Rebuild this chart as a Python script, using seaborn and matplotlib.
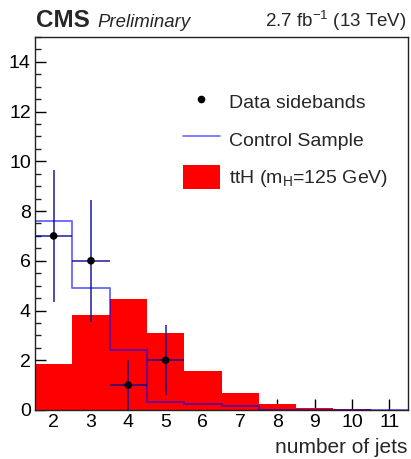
import numpy as np
import pandas as pd
import matplotlib
matplotlib.use('Agg')
import matplotlib.pyplot as plt
import seaborn as sns
from matplotlib.lines import Line2D
from matplotlib.patches import Patch

# Data
n_jets = [2, 3, 4, 5, 6, 7, 8, 9, 10, 11]
tth_signal = [1.85, 3.82, 4.45, 3.10, 1.58, 0.68, 0.25, 0.07, 0.02, 0.01]
control_sample = [7.62, 4.89, 2.42, 0.33, 0.25, 0.15, 0.0, 0.0, 0.0, 0.0]
data_jets = [2, 3, 4, 5]
data_counts = [7, 6, 1, 2]
bin_edges = [1.5, 2.5, 3.5, 4.5, 5.5, 6.5, 7.5, 8.5, 9.5, 10.5, 11.5]

hist = pd.DataFrame({'njets': n_jets, 'tth': tth_signal, 'control': control_sample})

sns.set_theme(style='white')
plt.rcParams['font.family'] = ['Liberation Sans', 'DejaVu Sans']
plt.rcParams['mathtext.fontset'] = 'custom'
plt.rcParams['mathtext.rm'] = 'Liberation Sans'
plt.rcParams['mathtext.it'] = 'Liberation Sans:italic'

fig = plt.figure(figsize=(4.11, 4.59), dpi=100)
ax = fig.add_axes([0.0852, 0.1068, 0.9075, 0.8126])

# ttH signal, filled red
sns.histplot(data=hist, x='njets', weights='tth', bins=bin_edges, element='step',
             fill=True, color='#ff0000', alpha=1.0, linewidth=0, ax=ax)
# control sample, blue outline
sns.histplot(data=hist, x='njets', weights='control', bins=bin_edges, element='step',
             fill=False, color='#0000ff', alpha=0.6, linewidth=1.3, ax=ax)

# data sidebands with sqrt(N) errors
yerr = np.sqrt(data_counts)
ax.errorbar(data_jets, data_counts, xerr=0.5, yerr=yerr, fmt='none',
            ecolor='#000096', alpha=0.7, elinewidth=1.4, capsize=0)
sns.scatterplot(x=data_jets, y=data_counts, color='black', s=30, ax=ax, zorder=5,
                edgecolor='none')

ax.set_xlim(1.5, 11.5)
ax.set_ylim(0, 15)
ax.set_xticks(n_jets)
ax.set_yticks([0, 2, 4, 6, 8, 10, 12, 14])
ax.set_yticks(np.arange(0, 15.01, 0.5), minor=True)
ax.tick_params(axis='both', which='major', direction='in', length=8, width=1,
               labelsize=14, colors='black', pad=3)
ax.tick_params(axis='y', which='minor', direction='in', length=4.5, width=1, left=True)
ax.tick_params(bottom=True, left=True, top=False, right=False)
for s in ax.spines.values():
    s.set_color('#222222')
    s.set_linewidth(1)
ax.set_ylabel('')
ax.set_xlabel('')
fig.text(407 / 411, 1 - 453 / 459, 'number of jets', ha='right', va='baseline', fontsize=15)

# legend
handles = [
    Line2D([], [], marker='o', color='black', linestyle='none', markersize=4.5),
    Line2D([], [], color='#0000ff', alpha=0.6, linewidth=1.2),
    Patch(facecolor='#ff0000', edgecolor='none'),
]
labels = ['Data sidebands', 'Control Sample', 'ttH (m$_{\\mathrm{H}}$=125 GeV)']
ax.legend(handles, labels, frameon=False, loc='upper left', bbox_to_anchor=(0.37, 0.885),
          fontsize=14, handlelength=1.9, handleheight=1.5, labelspacing=0.72,
          handletextpad=0.5, borderpad=0)

# header texts
fig.text(36 / 411, 1 - 27 / 459, 'CMS', fontsize=17.5, fontweight='bold', ha='left', va='baseline')
fig.text(97 / 411, 1 - 27 / 459, 'Preliminary', fontsize=13.4, style='italic', ha='left', va='baseline')
fig.text(407 / 411, 1 - 27 / 459, '2.7 fb$^{\\mathrm{-1}}$ (13 TeV)', fontsize=13.5,
         ha='right', va='baseline')

fig.savefig('out.png', dpi=100)
